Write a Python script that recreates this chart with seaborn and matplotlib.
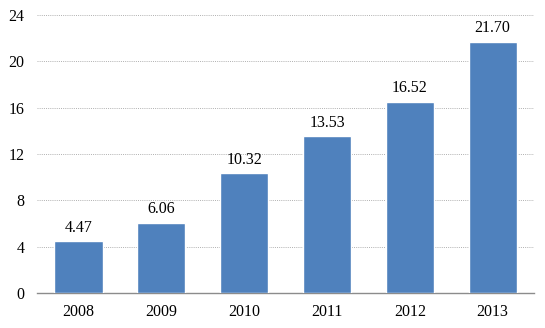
import matplotlib
matplotlib.use("Agg")
import matplotlib.pyplot as plt
import seaborn as sns
import pandas as pd

years = ["2008", "2009", "2010", "2011", "2012", "2013"]
values = [4.47, 6.06, 10.32, 13.53, 16.52, 21.70]
yticks = [0, 4, 8, 12, 16, 20, 24]

sns.set_theme(style="white")
plt.rcParams["font.family"] = ["Liberation Serif", "DejaVu Serif"]

df = pd.DataFrame({"year": years, "value": values})

fig = plt.figure(figsize=(5.45, 3.28), dpi=100)
ax = fig.add_axes([0.068, 0.107, 0.912, 0.847])

sns.barplot(data=df, x="year", y="value", color="#4F81BD", saturation=1,
            width=0.58, ax=ax, zorder=3)

ax.set_ylim(0, 24)
ax.set_yticks(yticks)
ax.set_yticklabels([str(t) for t in yticks])
ax.set_xlim(-0.5, len(years) - 0.5)
ax.set_xlabel("")
ax.set_ylabel("")

for t in yticks[1:]:
    ax.axhline(t, color="#b0b0b0", linestyle=(0, (1, 1.2)), linewidth=0.7, zorder=1)

for s in ["top", "right", "left"]:
    ax.spines[s].set_visible(False)
ax.spines["bottom"].set_color("#8c8c8c")
ax.spines["bottom"].set_linewidth(1.0)

ax.tick_params(axis="both", length=0, labelsize=11.5, colors="black")
ax.tick_params(axis="y", pad=9)
ax.tick_params(axis="x", pad=8)

for container in ax.containers:
    ax.bar_label(container, labels=[f"{v:.2f}" for v in values],
                 padding=4, fontsize=11.5, color="black")

fig.savefig("out.png", dpi=100)
